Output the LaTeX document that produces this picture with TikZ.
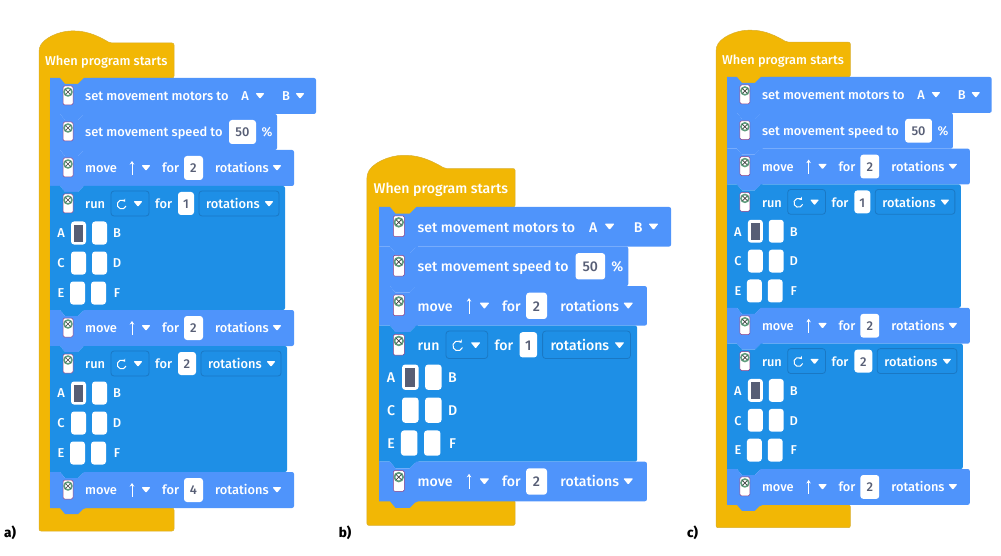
\documentclass[tikz,border=0pt]{standalone}
\usepackage{fontspec}
\setmainfont{Fira Sans}[UprightFont=* Medium]
\usetikzlibrary{arrows.meta}
\definecolor{hatyellow}{HTML}{F2B705}
\definecolor{hatedge}{HTML}{D9AE2C}
\definecolor{moveblue}{HTML}{4F94FB}
\definecolor{runblue}{HTML}{1E8FE6}
\definecolor{runedge}{HTML}{1A78C4}
\definecolor{valgray}{HTML}{575E75}
\definecolor{hubedge}{HTML}{8A3F86}
\definecolor{hubgreen}{HTML}{5E9C7C}
\tikzset{
  lbl/.style={text=white,font=\fontsize{12.85}{14}\selectfont,anchor=west,inner sep=0pt,text height=9.6pt,text depth=0pt},
  clbl/.style={lbl,anchor=center},
  vallbl/.style={clbl,text=valgray},
  valbox/.style={fill=white,rounded corners=3},
  ddbox/.style={draw=runedge,line width=.8pt,rounded corners=3},
  gridbox/.style={fill=white,rounded corners=3},
  tag/.style={inner sep=0pt,font=\fontsize{13.5}{15}\selectfont\bfseries,text=black}
}
% block with a notch on top and a tab below: colour, top, right, bottom
\newcommand{\blockshape}[4]{
\fill[#1] (0,#2) -- (10,#2) -- (15,#2+6) -- (28,#2+6) -- (34,#2) [rounded corners=2] -- (#3,#2) -- (#3,#4) -- (34,#4) [sharp corners] -- (28,#4+6) -- (15,#4+6) -- (10,#4) -- (0,#4) -- cycle;
}
\newcommand{\hubicon}[1]{
\draw[hubedge,fill=white,line width=.5pt,rounded corners=1.5] (13,#1+8) rectangle (23,#1+27);
\fill[hubgreen] (18,#1+14) circle (4.8);
\fill[white] (18,#1+14) circle (3);
\draw[black!75,line width=.7pt] (15.5,#1+11.5) -- (20.5,#1+16.5) (15.5,#1+16.5) -- (20.5,#1+11.5);
}
\newcommand{\ddtri}[2]{
\fill[white,rounded corners=.8] (#1-4.5,#2-2.8) -- (#1+4.5,#2-2.8) -- (#1,#2+2.8) -- cycle;
}
\newcommand{\hatblock}[1]{
\fill[hatyellow,draw=hatedge,line width=.5pt,rounded corners=2] (-11,#1) -- (-11,-28) .. controls (-8,-40) and (10,-47) .. (23,-47) .. controls (38,-47) and (50,-41) .. (60,-35) -- (124,-35) -- (124,0) -- (40,0) -- (40,8) -- (0,8) -- (0,#1-23) -- (124,#1-23) -- (124,#1) -- cycle;
\node[lbl] (\pn-when) at (-5,-17) {When program starts};
}
\newcommand{\motorsblk}[2]{
\blockshape{moveblue}{#2}{266}{#2+36}
\hubicon{#2}
\node[lbl] (\pn#1-set) at (35,#2+18) {set movement motors to};
\node[clbl] (\pn#1-a) at (195,#2+18) {A};
\ddtri{210}{#2+18}
\node[clbl] (\pn#1-b) at (236,#2+18) {B};
\ddtri{250}{#2+18}
}
\newcommand{\speedblk}[2]{
\blockshape{moveblue}{#2}{227}{#2+36}
\hubicon{#2}
\node[lbl] (\pn#1-set) at (35,#2+18) {set movement speed to};
\fill[valbox] (179,#2+6) rectangle (206,#2+30);
\node[vallbl] (\pn#1-val) at (192.5,#2+18) {50};
\node[clbl] (\pn#1-pct) at (217,#2+18) {\%};
}
\newcommand{\moveblk}[3]{
\blockshape{moveblue}{#2}{244}{#2+36}
\hubicon{#2}
\node[lbl] (\pn#1-move) at (35,#2+18) {move};
\draw[white,line width=.8pt,-{Stealth[length=3.5pt,width=4.5pt]}] (82,#2+25) -- (82,#2+11);
\ddtri{96}{#2+18}
\node[lbl] (\pn#1-for) at (112,#2+18) {for};
\fill[valbox] (134,#2+6) rectangle (153,#2+30);
\node[vallbl] (\pn#1-val) at (143.5,#2+18) {#3};
\node[lbl] (\pn#1-rot) at (165,#2+18) {rotations};
\ddtri{227}{#2+18}
}
% run block: id, top, rotations, bottom, extra width of the value field
\newcommand{\runblk}[5]{
\blockshape{runblue}{#2}{235+#5}{#4}
\hubicon{#2}
\node[lbl] (\pn#1-run) at (35,#2+18) {run};
\draw[ddbox] (61,#2+5) rectangle (99,#2+30);
\draw[white,line width=1pt,-{Stealth[length=2.5pt,width=4pt]}] (76,#2+20) arc[start angle=20,end angle=320,radius=4.5];
\ddtri{88}{#2+18}
\node[lbl] (\pn#1-for) at (105,#2+18) {for};
\fill[valbox] (128,#2+6) rectangle (144+#5,#2+29);
\node[vallbl] (\pn#1-val) at (136+#5/2,#2+18) {#3};
\draw[ddbox] (149+#5,#2+5) rectangle (229+#5,#2+30);
\node[lbl] (\pn#1-rot) at (156+#5,#2+18) {rotations};
\ddtri{219+#5}{#2+18}
\foreach \off/\lft/\rgt/\dx in {47/A/B/0,77/C/D/0,107/E/F/-1}{
\node[clbl] (\pn#1-\lft) at (11,#2+\off) {\lft};
\fill[gridbox] (21+\dx,#2+\off-11.5) rectangle (36+\dx,#2+\off+11.5);
\fill[gridbox] (42+\dx,#2+\off-11.5) rectangle (57+\dx,#2+\off+11.5);
\node[clbl] (\pn#1-\rgt) at (67,#2+\off) {\rgt};
}
\fill[valgray] (24,#2+39) rectangle (33,#2+56);
}
\begin{document}
\begin{tikzpicture}[x=1pt,y=-1pt,every node/.append style={transform shape}]
\useasboundingbox (0,0) rectangle (1001,556);
\begin{scope}[shift={(50,78)}]
\def\pn{a}
\hatblock{453}
\motorsblk{1}{0}
\speedblk{2}{36}
\moveblk{3}{72}{2}
\runblk{4}{108}{1}{232}{0}
\moveblk{5}{232}{2}
\runblk{6}{268}{2}{394}{2}
\moveblk{7}{394}{4}
\end{scope}
\begin{scope}[shift={(379,207)},scale=1.098]
\def\pn{b}
\hatblock{290}
\motorsblk{1}{0}
\speedblk{2}{36}
\moveblk{3}{72}{2}
\runblk{4}{108}{1}{232}{0}
\moveblk{5}{232}{2}
\end{scope}
\begin{scope}[shift={(727,77)},scale=.995]
\def\pn{c}
\hatblock{453}
\motorsblk{1}{0}
\speedblk{2}{36}
\moveblk{3}{72}{2}
\runblk{4}{108}{1}{232}{0}
\moveblk{5}{232}{2}
\runblk{6}{268}{2}{394}{2}
\moveblk{7}{394}{2}
\end{scope}
\node[tag] (taga) at (10,533) {a)};
\node[tag] (tagb) at (345,533) {b)};
\node[tag] (tagc) at (692.5,533) {c)};
\end{tikzpicture}
\end{document}
